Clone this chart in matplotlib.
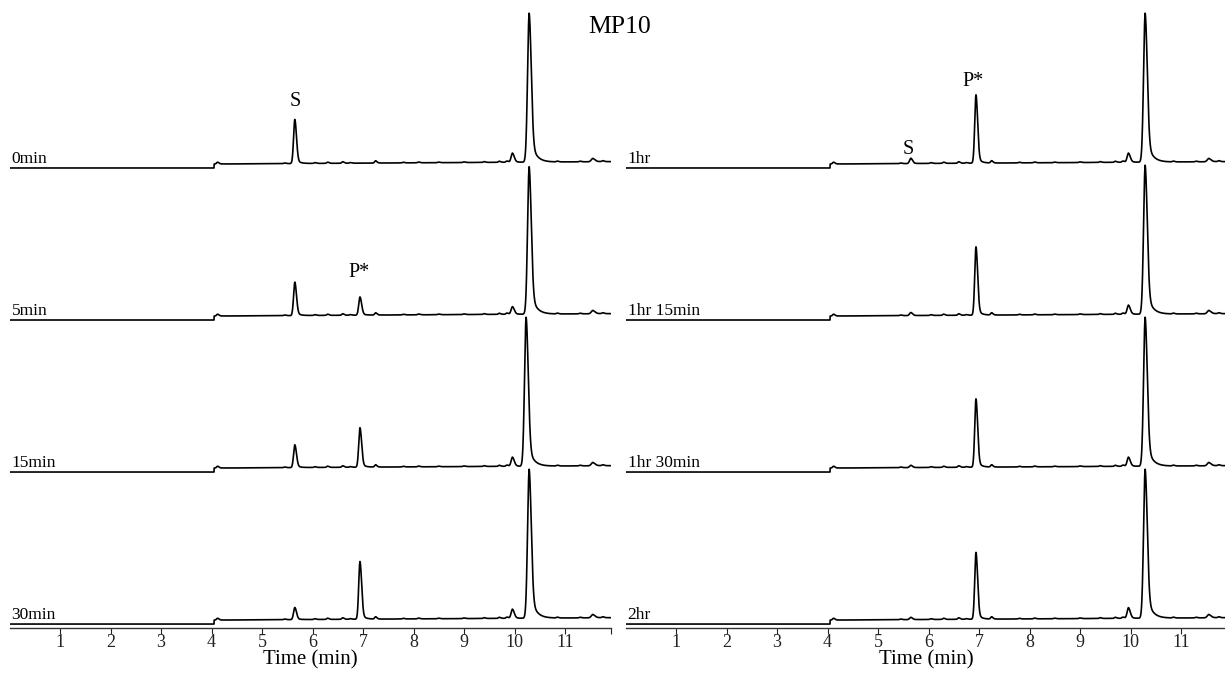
import numpy as np
import matplotlib
matplotlib.use("Agg")
from matplotlib import pyplot as plt

plt.rcParams['font.family'] = ['Liberation Serif', 'DejaVu Serif']

# trace labels (top to bottom)
left_labels = ["0min", "5min", "15min", "30min"]
right_labels = ["1hr", "1hr 15min", "1hr 30min", "2hr"]

# main peaks: retention time (min) and heights (in trace-spacing units)
rt_s = 5.65
rt_p = 6.94
rt_big = 10.29
rt_small = 9.96
rt_bump = 11.55

left_s = [0.29, 0.22, 0.15, 0.08]
left_p = [0.0, 0.12, 0.26, 0.38]
left_big = [0.98, 0.97, 0.98, 0.98]
left_small = [0.06, 0.05, 0.06, 0.06]
left_big_shift = [0.0, 0.0, -0.06, 0.0]

right_s = [0.035, 0.02, 0.015, 0.015]
right_p = [0.45, 0.45, 0.45, 0.44]
right_big = [0.98, 0.98, 0.98, 0.98]
right_small = [0.06, 0.06, 0.06, 0.07]
right_big_shift = [0.0, 0.0, 0.0, 0.0]

# minor wiggles along the baseline: time, height
minor_t = [4.12, 5.45, 6.05, 6.3, 6.6, 6.75, 7.25, 7.8, 8.1, 8.5, 9.0, 9.4, 9.7, 9.85, 10.85, 11.3, 11.75]
minor_h = [0.012, 0.004, 0.005, 0.008, 0.01, 0.004, 0.015, 0.004, 0.005, 0.004, 0.004, 0.005, 0.007, 0.008, 0.005, 0.004, 0.006]

step_t = 4.05
step_h = 0.026

t = np.linspace(0, 11.9, 6000)


def peak(x, c, h, s, tail=0.15, tau=0.1):
    d = x - c
    left = h * np.exp(-0.5 * (d / s) ** 2)
    right = h * ((1 - tail) * np.exp(-0.5 * (d / (1.3 * s)) ** 2) + tail * np.exp(-np.clip(d, 0, None) / tau))
    return np.where(d < 0, left, right)


def trace(s_h, p_h, big_h, small_h, big_shift):
    y = np.where(t < step_t, 0.0, step_h + 0.002 * np.clip(t - step_t, 0, None))
    y = y + peak(t, rt_s, s_h, 0.025, 0.12, 0.07)
    y = y + peak(t, rt_p, p_h, 0.025, 0.12, 0.07)
    y = y + peak(t, rt_big + big_shift, big_h, 0.032, 0.2, 0.1)
    y = y + peak(t, rt_small, small_h, 0.027, 0.2, 0.05)
    y = y + peak(t, rt_bump, 0.022, 0.03, 0.3, 0.08)
    for mt, mh in zip(minor_t, minor_h):
        y = y + peak(t, mt, mh, 0.02, 0.2, 0.05)
    return y


fig = plt.figure(figsize=(12.25, 6.76), dpi=100)
ax1 = fig.add_axes([9.5 / 1225, 48 / 676, 601 / 1225, 628 / 676])
ax2 = fig.add_axes([625.5 / 1225, 48 / 676, 601 / 1225, 628 / 676])

panels = [
    (ax1, left_labels, left_s, left_p, left_big, left_small, left_big_shift),
    (ax2, right_labels, right_s, right_p, right_big, right_small, right_big_shift),
]

for ax, labels, s_list, p_list, big_list, small_list, shifts in panels:
    n = len(labels)
    for i in range(n):
        off = n - 1 - i
        y = trace(s_list[i], p_list[i], big_list[i], small_list[i], shifts[i])
        ax.plot(t, y + off, color="black", lw=1.2)
        ax.text(0.04, off + 0.008, labels[i], fontsize=12.5, ha="left", va="bottom")
    ax.set_xlim(0, 11.9)
    ax.set_ylim(-0.026, 4.105)
    ax.set_xticks(list(range(1, 12)) + [11.9])
    ax.set_xticklabels([str(k) for k in range(1, 12)] + [""])
    ax.tick_params(axis="x", direction="out", length=4, width=0.8, pad=0, labelsize=13, colors="#222222")
    ax.set_yticks([])
    for sp in ["left", "right", "top"]:
        ax.spines[sp].set_visible(False)
    ax.spines["bottom"].set_linewidth(1.0)
    ax.spines["bottom"].set_color("#333333")
    ax.set_xlabel("Time (min)", fontsize=15, labelpad=0)
    ax.patch.set_alpha(0)

# peak labels
ax1.text(rt_s, 3 + 0.44, "S", fontsize=14.5, ha="center", va="center")
ax1.text(rt_p - 0.02, 2 + 0.31, "P*", fontsize=14.5, ha="center", va="center")
ax2.text(rt_s - 0.06, 3 + 0.12, "S", fontsize=14.5, ha="center", va="center")
ax2.text(rt_p - 0.05, 3 + 0.57, "P*", fontsize=14.5, ha="center", va="center")

fig.text(0.506, 0.96, "MP10", fontsize=18.5, ha="center", va="center")

fig.savefig("out.png", dpi=100)
